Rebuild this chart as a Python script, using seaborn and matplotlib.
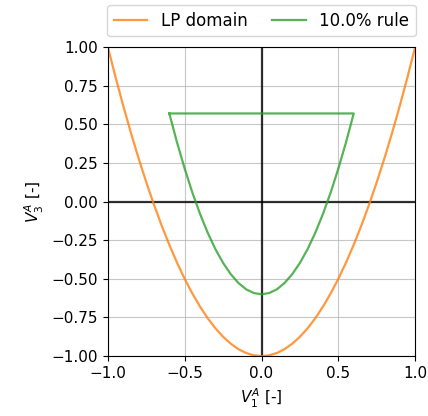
import numpy as np
import pandas as pd
import seaborn as sns
import matplotlib
matplotlib.use('Agg')
import matplotlib.pyplot as plt

# LP domain boundary
lp_v1 = [-1.0, -0.95, -0.9, -0.85, -0.8, -0.75, -0.7, -0.65, -0.6, -0.55, -0.5,
         -0.45, -0.4, -0.35, -0.3, -0.25, -0.2, -0.15, -0.1, -0.05, 0.0,
         0.05, 0.1, 0.15, 0.2, 0.25, 0.3, 0.35, 0.4, 0.45, 0.5,
         0.55, 0.6, 0.65, 0.7, 0.75, 0.8, 0.85, 0.9, 0.95, 1.0]
lp_v3 = [1.0, 0.805, 0.62, 0.445, 0.28, 0.125, -0.02, -0.155, -0.28, -0.395, -0.5,
         -0.595, -0.68, -0.755, -0.82, -0.875, -0.92, -0.955, -0.98, -0.995, -1.0,
         -0.995, -0.98, -0.955, -0.92, -0.875, -0.82, -0.755, -0.68, -0.595, -0.5,
         -0.395, -0.28, -0.155, -0.02, 0.125, 0.28, 0.445, 0.62, 0.805, 1.0]

# 10% rule region (closed outline)
rule_v1 = [-0.6, -0.55, -0.5, -0.45, -0.4, -0.35, -0.3, -0.25, -0.2, -0.15, -0.1, -0.05, 0.0,
           0.05, 0.1, 0.15, 0.2, 0.25, 0.3, 0.35, 0.4, 0.45, 0.5, 0.55, 0.6, -0.6]
rule_v3 = [0.57, 0.383, 0.213, 0.058, -0.08, -0.202, -0.308, -0.397, -0.47, -0.527, -0.568, -0.592, -0.6,
           -0.592, -0.568, -0.527, -0.47, -0.397, -0.308, -0.202, -0.08, 0.058, 0.213, 0.383, 0.57, 0.57]

lp = pd.DataFrame({'V1': lp_v1, 'V3': lp_v3})
rule = pd.DataFrame({'V1': rule_v1, 'V3': rule_v3})

fig, ax = plt.subplots(figsize=(4.28, 4.16), dpi=100)
fig.subplots_adjust(left=0.252, right=0.970, top=0.887, bottom=0.144)

ax.axhline(0, color='k', lw=1.6, alpha=0.8, zorder=1)
ax.axvline(0, color='k', lw=1.6, alpha=0.8, zorder=1)

sns.lineplot(data=lp, x='V1', y='V3', sort=False, estimator=None, color='tab:orange',
             alpha=0.8, lw=1.6, label='LP domain', ax=ax)
sns.lineplot(data=rule, x='V1', y='V3', sort=False, estimator=None, color='tab:green',
             alpha=0.8, lw=1.6, label='10.0% rule', ax=ax)

ax.set_xlim(-1, 1)
ax.set_ylim(-1, 1)
ax.set_xticks([-1.0, -0.5, 0.0, 0.5, 1.0])
ax.set_yticks([-1.0, -0.75, -0.5, -0.25, 0.0, 0.25, 0.5, 0.75, 1.0])
ax.set_xticklabels(['−1.0', '−0.5', '0.0', '0.5', '1.0'])
ax.set_yticklabels(['−1.00', '−0.75', '−0.50', '−0.25', '0.00', '0.25', '0.50', '0.75', '1.00'])
ax.tick_params(labelsize=11)
ax.grid(True, color='#b0b0b0', lw=0.8, alpha=0.7)
ax.set_axisbelow(True)
ax.set_xlabel('$V_1^A$ [-]', fontsize=11)
ax.set_ylabel('$V_3^A$ [-]', fontsize=11)

ax.legend(loc='lower center', bbox_to_anchor=(0.5, 1.0), borderaxespad=0.65,
          ncol=2, fontsize=12, columnspacing=1.5)

fig.savefig('out.png', dpi=100)
